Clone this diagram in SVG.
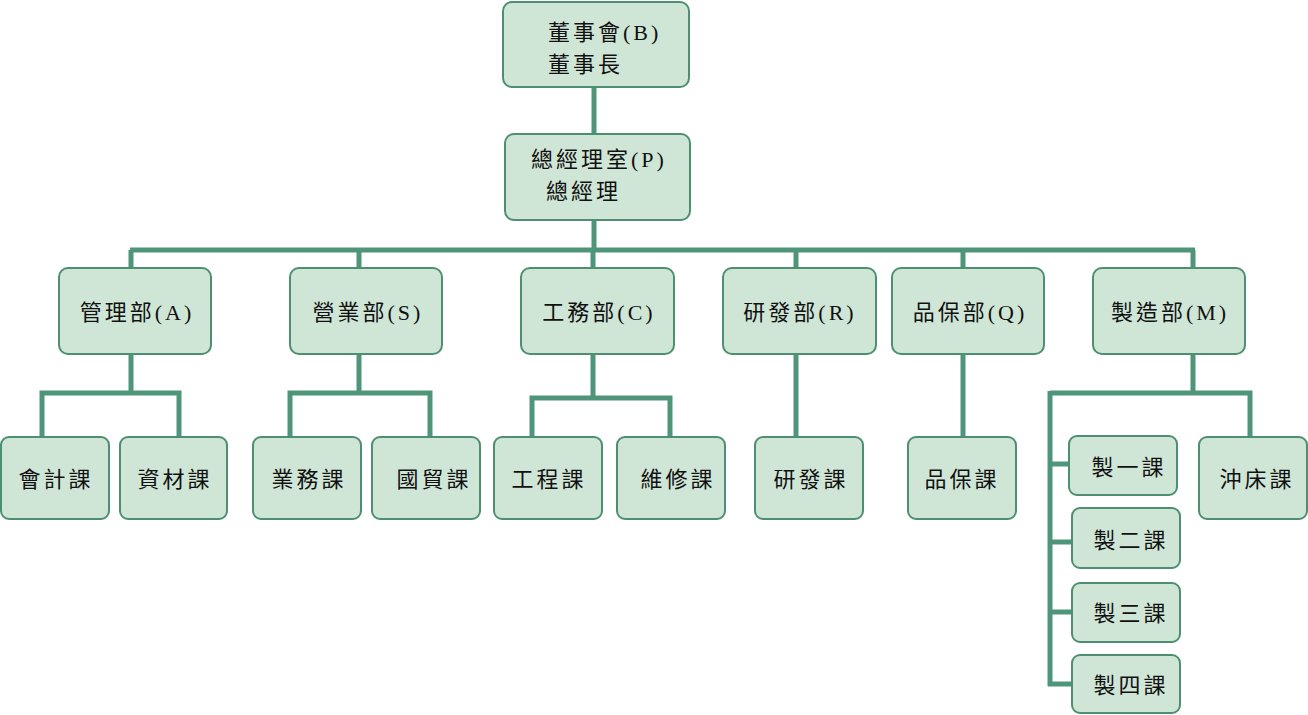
<svg xmlns="http://www.w3.org/2000/svg" width="1308" height="715" viewBox="0 0 1308 715">
<style>
.box{fill:#cfe6d7;stroke:#4e8f72;stroke-width:2}
.t{font-family:"Liberation Serif","Noto Sans CJK TC",serif;font-size:22px;fill:#111;letter-spacing:3px}
.c{text-anchor:middle}
.ln{stroke:#4f9579;stroke-width:5;fill:none}
</style>
<rect width="1308" height="715" fill="#fff"/>
<g id="connectors">
<path class="ln" d="M594 87V134M594 220V250M130 250H1195M131 250V268M359 250V268M593 250V268M796 250V268M963 250V268M1193 250V268"/>
<path class="ln" d="M131 354V393M42 437V393H179V437"/>
<path class="ln" d="M359 354V393M290 437V393H430V437"/>
<path class="ln" d="M593 354V398M532 437V398H670V398V437"/>
<path class="ln" d="M796 354V437M963 354V437"/>
<path class="ln" d="M1193 354V393M1050 393H1250V437M1050 391V686M1048 464H1069M1048 542H1072M1048 612H1072M1048 684H1072"/>
</g>
<g id="n-board"><rect class="box" x="503" y="2" width="186" height="85" rx="9"/><text class="t" x="548" y="40">董事會(B)</text><text class="t" x="548" y="72">董事長</text></g>
<g id="n-gm"><rect class="box" x="505" y="134" width="185" height="86" rx="9"/><text class="t" x="531" y="167">總經理室(P)</text><text class="t" x="546" y="199">總經理</text></g>
<g id="n-A"><rect class="box" x="59" y="268" width="152" height="86" rx="9"/><text class="t c" x="137" y="320">管理部(A)</text></g>
<g id="n-S"><rect class="box" x="290" y="268" width="152" height="86" rx="9"/><text class="t c" x="368" y="320">營業部(S)</text></g>
<g id="n-C"><rect class="box" x="521" y="268" width="153" height="86" rx="9"/><text class="t c" x="599" y="320">工務部(C)</text></g>
<g id="n-R"><rect class="box" x="723" y="268" width="153" height="86" rx="9"/><text class="t c" x="800" y="320">研發部(R)</text></g>
<g id="n-Q"><rect class="box" x="892" y="268" width="152" height="86" rx="9"/><text class="t c" x="970" y="320">品保部(Q)</text></g>
<g id="n-M"><rect class="box" x="1093" y="268" width="152" height="86" rx="9"/><text class="t c" x="1170" y="320">製造部(M)</text></g>
<g id="n-a1"><rect class="box" x="1" y="437" width="108" height="82" rx="8"/><text class="t c" x="56" y="487">會計課</text></g>
<g id="n-a2"><rect class="box" x="120" y="437" width="107" height="82" rx="8"/><text class="t c" x="175" y="487">資材課</text></g>
<g id="n-s1"><rect class="box" x="253" y="437" width="108" height="82" rx="8"/><text class="t c" x="309" y="487">業務課</text></g>
<g id="n-s2"><rect class="box" x="372" y="437" width="108" height="82" rx="8"/><text class="t c" x="434" y="487">國貿課</text></g>
<g id="n-c1"><rect class="box" x="494" y="437" width="108" height="82" rx="8"/><text class="t c" x="549" y="487">工程課</text></g>
<g id="n-c2"><rect class="box" x="617" y="437" width="108" height="82" rx="8"/><text class="t c" x="678" y="487">維修課</text></g>
<g id="n-r1"><rect class="box" x="755" y="437" width="108" height="82" rx="8"/><text class="t c" x="811" y="487">研發課</text></g>
<g id="n-q1"><rect class="box" x="908" y="437" width="108" height="82" rx="8"/><text class="t c" x="962" y="487">品保課</text></g>
<g id="n-m0"><rect class="box" x="1199" y="437" width="108" height="82" rx="8"/><text class="t c" x="1257" y="487">沖床課</text></g>
<g id="n-m1"><rect class="box" x="1069" y="436" width="108" height="59" rx="8"/><text class="t c" x="1129" y="475">製一課</text></g>
<g id="n-m2"><rect class="box" x="1072" y="508" width="108" height="60" rx="8"/><text class="t c" x="1131" y="548">製二課</text></g>
<g id="n-m3"><rect class="box" x="1072" y="583" width="108" height="59" rx="8"/><text class="t c" x="1131" y="621">製三課</text></g>
<g id="n-m4"><rect class="box" x="1072" y="655" width="108" height="58" rx="8"/><text class="t c" x="1131" y="693">製四課</text></g>
</svg>
